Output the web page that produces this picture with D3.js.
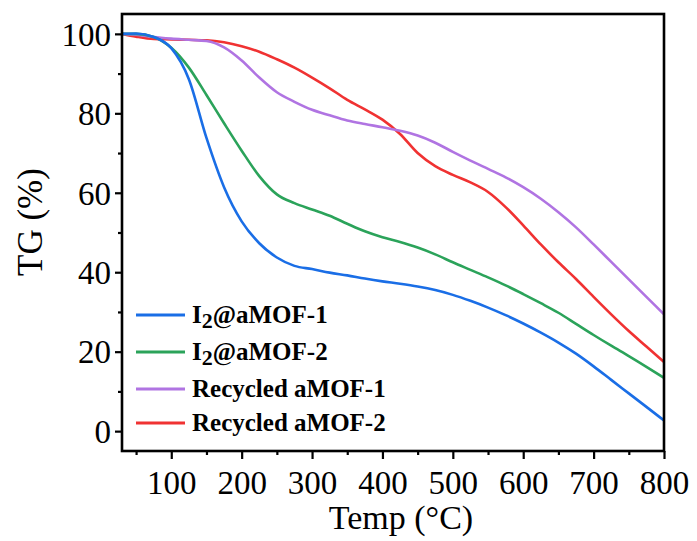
<!DOCTYPE html>
<html>
<head>
<meta charset="utf-8">
<script src="https://cdn.jsdelivr.net/npm/d3@7"></script>
<style>
  html, body { margin: 0; padding: 0; background: #fff; }
  svg { display: block; }
</style>
</head>
<body>
<svg id="chart" width="697" height="541"></svg>
<script>
// Temperature grid (°C) shared by all TG curves
const temps = [30, 50, 75, 100, 125, 150, 175, 200, 225, 250, 275, 300, 325, 350, 375, 400,
  425, 450, 475, 500, 525, 550, 575, 600, 625, 650, 675, 700, 725, 750, 775, 800];

// Mass retained (%) for each sample
const i2aMOF1 = [100, 100.1, 99.2, 96.4, 88.6, 73.8, 61.4, 52.8, 47.3, 43.7, 41.6, 40.8, 39.9, 39.2,
  38.4, 37.7, 37.1, 36.4, 35.5, 34.3, 32.8, 31.1, 29.2, 27.1, 24.8, 22.3, 19.5, 16.3, 12.9, 9.5, 6.1, 2.7];
const i2aMOF2 = [100, 100, 99.2, 96.5, 91.5, 84.6, 77.5, 70.6, 64.2, 59.6, 57.4, 55.8, 54.2, 52.2,
  50.3, 48.8, 47.6, 46.2, 44.5, 42.5, 40.6, 38.7, 36.7, 34.5, 32.2, 29.8, 27.0, 24.2, 21.5, 18.9, 16.2, 13.4];
const recycledAMOF1 = [100, 99.8, 99.2, 98.8, 98.5, 98.2, 96.6, 93.3, 89.0, 85.3, 82.9, 80.9, 79.5, 78.2,
  77.3, 76.5, 75.6, 74.4, 72.6, 70.3, 68.1, 66.0, 63.9, 61.4, 58.5, 55.1, 51.3, 47.0, 42.6, 38.2, 33.8, 29.4];
const recycledAMOF2 = [100, 99.3, 98.7, 98.6, 98.5, 98.4, 97.9, 96.9, 95.5, 93.6, 91.5, 89.0, 86.3, 83.4,
  81.0, 78.4, 74.8, 70.0, 66.7, 64.5, 62.6, 60.2, 56.4, 51.8, 47.0, 42.5, 38.3, 33.8, 29.4, 25.2, 21.3, 17.4];

const seriesNames = ["I2@aMOF-1", "I2@aMOF-2", "Recycled aMOF-1", "Recycled aMOF-2"];
const seriesValues = [i2aMOF1, i2aMOF2, recycledAMOF1, recycledAMOF2];
const seriesColors = ["#1a6ee6", "#2ba35a", "#b074e2", "#f03232"];

const xMajorTicks = [100, 200, 300, 400, 500, 600, 700, 800];
const xMinorTicks = [50, 150, 250, 350, 450, 550, 650, 750];
const yMajorTicks = [0, 20, 40, 60, 80, 100];
const yMinorTicks = [10, 30, 50, 70, 90];

const svg = d3.select("#chart");
const plotLeft = 122, plotRight = 664, plotTop = 14, plotBottom = 451;

const x = d3.scaleLinear().domain([30, 800]).range([plotLeft, plotRight]);
const y = d3.scaleLinear().domain([-5, 105]).range([plotBottom, plotTop]);

const serif = "'Liberation Serif', 'Times New Roman', serif";

// curves
const line = d3.line()
  .x((d, i) => x(temps[i]))
  .y(d => y(d))
  .curve(d3.curveMonotoneX);

svg.append("clipPath").attr("id", "plot-clip")
  .append("rect").attr("x", plotLeft).attr("y", plotTop)
  .attr("width", plotRight - plotLeft).attr("height", plotBottom - plotTop);

// draw order: red and purple underneath, blue and green on top
const order = [3, 2, 1, 0];
svg.append("g").attr("clip-path", "url(#plot-clip)")
  .selectAll("path")
  .data(order)
  .join("path")
  .attr("d", k => line(seriesValues[k]))
  .attr("fill", "none")
  .attr("stroke", k => seriesColors[k])
  .attr("stroke-width", 2.6)
  .attr("stroke-linejoin", "round");

// axes
function styleAxis(g) {
  g.select(".domain").remove();
  g.selectAll(".tick line").attr("stroke", "#000").attr("stroke-width", 2.2);
  g.selectAll(".tick text").attr("fill", "#000").style("font-family", serif).style("font-size", "33px");
}

const gx = svg.append("g").attr("transform", `translate(0,${plotBottom})`)
  .call(d3.axisBottom(x).tickValues(xMajorTicks).tickSize(8).tickPadding(6).tickFormat(d3.format("d")));
styleAxis(gx);
gx.selectAll(".tick text").attr("dy", null).attr("y", 43);

const gxm = svg.append("g").attr("transform", `translate(0,${plotBottom})`)
  .call(d3.axisBottom(x).tickValues(xMinorTicks).tickSize(4).tickFormat(""));
styleAxis(gxm);

const gy = svg.append("g").attr("transform", `translate(${plotLeft},0)`)
  .call(d3.axisLeft(y).tickValues(yMajorTicks).tickSize(7).tickPadding(4).tickFormat(d3.format("d")));
styleAxis(gy);
gy.selectAll(".tick text").attr("dy", "0.34em");

const gym = svg.append("g").attr("transform", `translate(${plotLeft},0)`)
  .call(d3.axisLeft(y).tickValues(yMinorTicks).tickSize(4).tickFormat(""));
styleAxis(gym);

// frame
svg.append("rect")
  .attr("x", plotLeft).attr("y", plotTop)
  .attr("width", plotRight - plotLeft).attr("height", plotBottom - plotTop)
  .attr("fill", "none").attr("stroke", "#000").attr("stroke-width", 2.6);

// axis titles
svg.append("text")
  .attr("x", 401).attr("y", 529)
  .attr("text-anchor", "middle")
  .style("font-family", serif).style("font-size", "34px")
  .text("Temp (°C)");

svg.append("text")
  .attr("transform", "translate(42,222) rotate(-90)")
  .attr("text-anchor", "middle")
  .style("font-family", serif).style("font-size", "35px")
  .text("TG (%)");

// legend
const legendRows = [315, 352, 389, 423];
const legend = svg.append("g");
seriesNames.forEach((name, i) => {
  const ry = legendRows[i];
  legend.append("line")
    .attr("x1", 136).attr("x2", 185).attr("y1", ry).attr("y2", ry)
    .attr("stroke", seriesColors[i]).attr("stroke-width", 3);
  const t = legend.append("text")
    .attr("x", 192).attr("y", ry + 8)
    .style("font-family", serif).style("font-size", "25px").style("font-weight", "bold");
  if (name.startsWith("I2")) {
    t.append("tspan").text("I");
    t.append("tspan").attr("dy", 5).style("font-size", "22px").text("2");
    t.append("tspan").attr("dy", -5).text(name.slice(2));
  } else {
    t.text(name);
  }
});
</script>
</body>
</html>
